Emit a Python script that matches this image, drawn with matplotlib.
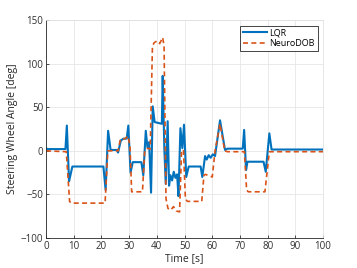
import numpy as np
import matplotlib
matplotlib.use('Agg')
import matplotlib.pyplot as plt

plt.rcParams['font.family'] = ['Open Sans', 'DejaVu Sans']

# LQR steering angle trace (time [s], angle [deg])
lqr_t = [0, 0.5, 7.0, 7.5, 8.3, 9.5, 20.7, 21.5, 22.4, 23.3, 25.5, 26.0, 27.0,
         28.0, 29.1, 29.7, 30.5, 31.3, 34.4, 35.1, 36.0, 36.6, 37.2, 37.9, 38.5,
         39.2, 41.8, 42.1, 42.7, 43.2, 43.9, 44.4, 44.9, 45.5, 46.1, 46.7, 47.3,
         47.8, 48.5, 49.2, 49.8, 50.6, 51.5, 55.8, 56.4, 57.4, 58.0, 58.7, 59.4,
         60.2, 61.0, 62.8, 64.6, 65.5, 71.0, 71.5, 72.2, 72.7, 78.5, 79.3, 80.6,
         81.4, 100]
lqr_y = [3, 2, 2, 29, -35, -18, -18, -45, 23, 1, 1, -2, 12,
         14, 14, 29, -25, -13, -13, -28, 23, 4, 10, -48, 51,
         33, 31, 86, 2, -38, 34, -40, -28, -34, -24, -31, -27,
         -52, 26, 3, 30, -30, -18, -18, -30, -6, -10, -5, -8,
         -4, -6, 35, 1, 2.5, 2.5, 24, -22, -12.5, -12.5, -24, 20,
         1.5, 1.5]

# NeuroDOB steering angle trace
neuro_t = [0, 7.3, 8.5, 9.0, 21.3, 22.3, 26.0, 26.8, 28.5, 29.6, 30.3, 30.9,
           34.8, 35.6, 36.8, 37.6, 38.4, 39.0, 40.0, 41.0, 42.1, 42.6, 43.3,
           44.0, 45.0, 46.0, 47.0, 48.2, 48.9, 49.6, 50.3, 51.0, 56.2, 57.0,
           57.5, 60.0, 61.0, 62.8, 64.5, 65.5, 71.6, 72.4, 73.0, 79.0, 80.6,
           81.5, 100]
neuro_y = [0, -1, -58, -60, -60, 0, 0, 13, 14, 17, 5, -47,
           -47, 0, 3, 2, 120, 124, 126, 123, 130, 120, -55,
           -66, -68, -64, -69, -70, 0, 1, -55, -58, -58, -28,
           -27, -30, 0, 31, 0, -1, -1, -45, -47, -47, -1,
           -1, -1]

fig = plt.figure(figsize=(3.57, 2.68), dpi=100)
ax = fig.add_axes([0.129, 0.112, 0.776, 0.813])

ax.plot(lqr_t, lqr_y, color='#0072BD', lw=1.5, label='LQR')
ax.plot(neuro_t, neuro_y, color='#D95319', lw=1.2, ls=(0, (3, 2)), label='NeuroDOB')

ax.set_xlim(0, 100)
ax.set_ylim(-100, 150)
ax.set_xticks(np.arange(0, 101, 10))
ax.set_yticks(np.arange(-100, 151, 50))
ax.grid(True, color='#e6e6e6', lw=0.6)
ax.set_axisbelow(True)
ax.tick_params(direction='in', length=2.5, width=0.6, labelsize=7,
               colors='#303030', top=False, right=False, pad=2)
for s in ax.spines.values():
    s.set_color('#262626')
    s.set_linewidth(0.6)
for s in ['top', 'right']:
    ax.spines[s].set_color('#e0e0e0')

ax.set_xlabel('Time [s]', fontsize=7.5, color='#262626', labelpad=1)
ax.set_ylabel('Steering Wheel Angle [deg]', fontsize=7.5, color='#262626', labelpad=2)

leg = ax.legend(loc='upper right', fontsize=6.5, fancybox=False, framealpha=1,
                edgecolor='#262626', handlelength=2.7, borderpad=0.3,
                labelspacing=0.2, handletextpad=0.3, borderaxespad=0.6)
leg.get_frame().set_linewidth(0.6)

fig.savefig('out.png', dpi=100)
